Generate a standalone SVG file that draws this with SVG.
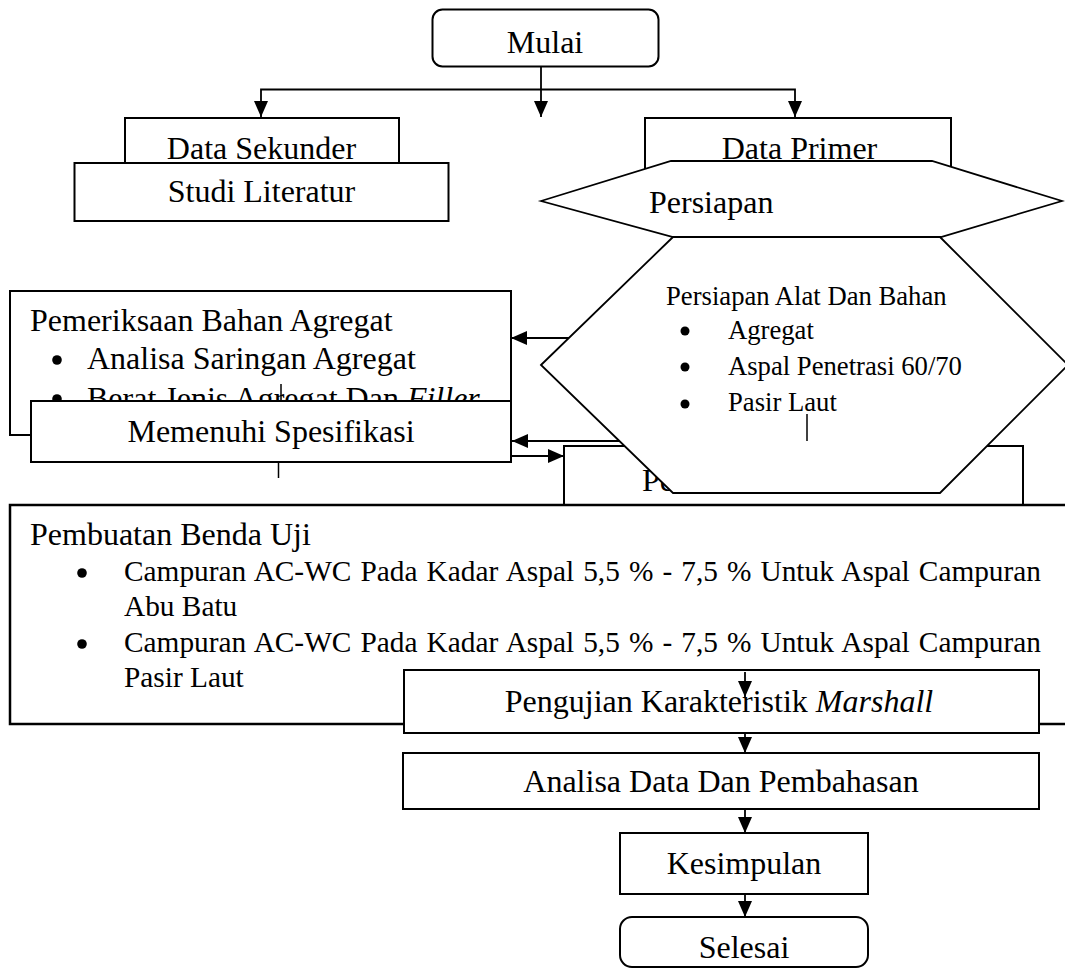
<svg xmlns="http://www.w3.org/2000/svg" width="1065" height="969" viewBox="0 0 1065 969">
<style>
text{font-family:"Liberation Serif","Times New Roman",serif;fill:#000}
.t32{font-size:32px}
.t29{font-size:29.33px}
.t27{font-size:26.67px}
.box{fill:#fff;stroke:#000;stroke-width:2}
.hex{fill:#fff;stroke:#000;stroke-width:1.8;stroke-linejoin:miter}
.con{fill:none;stroke:#000;stroke-width:1.8}
.thin{fill:none;stroke:#000;stroke-width:1.5}
.dot{fill:#000}
</style>
<defs>
<marker id="ah" viewBox="0 0 16 14" refX="16" refY="7" markerWidth="16" markerHeight="14" orient="auto" markerUnits="userSpaceOnUse">
<path d="M0,0 L16,7 L0,14 Z" fill="#000"/>
</marker>
</defs>
<rect width="1065" height="969" fill="#fff"/>

<g id="connectors-top">
<path class="con" d="M541,67 V117" marker-end="url(#ah)"/>
<path class="con" d="M541,89.5 H261 V117" marker-end="url(#ah)"/>
<path class="con" d="M541,89.5 H795 V117" marker-end="url(#ah)"/>
</g>

<g id="mulai">
<rect class="box" x="432.5" y="9.5" width="226" height="57" rx="10"/>
<text class="t32" x="545" y="53" text-anchor="middle">Mulai</text>
</g>

<g id="data-sekunder">
<rect class="box" x="125" y="118" width="274" height="70"/>
<text class="t32" x="261.5" y="159" text-anchor="middle">Data Sekunder</text>
</g>
<g id="studi-literatur">
<rect class="box" x="74.5" y="163" width="374" height="58"/>
<text class="t32" x="261.5" y="202" text-anchor="middle">Studi Literatur</text>
</g>

<g id="data-primer">
<rect class="box" x="645" y="118" width="306" height="70"/>
<text class="t32" x="799.5" y="159" text-anchor="middle">Data Primer</text>
</g>

<g id="persiapan">
<polygon class="hex" points="541,201 671,161 932,161 1062,201 941,237 673,237"/>
<text class="t32" x="649" y="213">Persiapan</text>
</g>

<g id="pemeriksaan">
<rect class="box" x="10" y="291" width="501" height="144"/>
<text class="t32" x="30" y="331">Pemeriksaan Bahan Agregat</text>
<circle class="dot" cx="57" cy="360" r="4.8"/>
<text class="t32" x="87" y="369">Analisa Saringan Agregat</text>
<circle class="dot" cx="57" cy="399" r="4.8"/>
<text class="t32" x="87" y="409">Berat Jenis Agregat Dan <tspan font-style="italic">Filler</tspan></text>
</g>

<g id="connectors-mid">
<path class="thin" d="M281,384 V401"/>
<path class="con" d="M578,338 H511" marker-end="url(#ah)"/>
<path class="con" d="M630,441 H512" marker-end="url(#ah)"/>
<path class="con" d="M511,456 H564" marker-end="url(#ah)"/>
<path class="thin" d="M278.5,462 V478"/>
</g>

<g id="memenuhi">
<rect class="box" x="31" y="401" width="480" height="61"/>
<text class="t32" x="271" y="442" text-anchor="middle">Memenuhi Spesifikasi</text>
</g>

<g id="box-p">
<rect class="box" x="564" y="446" width="459" height="80"/>
<text class="t32" x="642" y="491">Pe</text>
</g>

<g id="persiapan-alat">
<polygon class="hex" points="541,365 673,237 940,237 1068,365 940,493 673,493"/>
<text class="t27" x="666" y="305">Persiapan Alat Dan Bahan</text>
<circle class="dot" cx="685" cy="331" r="4.5"/>
<text class="t27" x="728" y="339">Agregat</text>
<circle class="dot" cx="685" cy="367" r="4.5"/>
<text class="t27" x="728" y="375">Aspal Penetrasi 60/70</text>
<circle class="dot" cx="685" cy="404" r="4.5"/>
<text class="t27" x="728" y="411">Pasir Laut</text>
<path class="thin" d="M807,414 V441"/>
</g>

<g id="pembuatan">
<rect x="10" y="505" width="1070" height="219" fill="#fff" stroke="#000" stroke-width="2.5"/>
<text class="t32" x="30" y="545">Pembuatan Benda Uji</text>
<circle class="dot" cx="82" cy="573" r="4.8"/>
<text class="t29" x="124" y="581" word-spacing="1.75">Campuran AC-WC Pada Kadar Aspal 5,5 % - 7,5 % Untuk Aspal Campuran</text>
<text class="t29" x="124" y="616">Abu Batu</text>
<circle class="dot" cx="82" cy="644" r="4.8"/>
<text class="t29" x="124" y="652" word-spacing="1.75">Campuran AC-WC Pada Kadar Aspal 5,5 % - 7,5 % Untuk Aspal Campuran</text>
<text class="t29" x="124" y="687">Pasir Laut</text>
</g>

<g id="pengujian">
<rect class="box" x="404" y="670" width="635" height="63"/>
<text class="t32" x="719" y="712" text-anchor="middle">Pengujian Karakteristik <tspan font-style="italic">Marshall</tspan></text>
</g>

<g id="analisa">
<rect class="box" x="403" y="753" width="636" height="56"/>
<text class="t32" x="721" y="792" text-anchor="middle">Analisa Data Dan Pembahasan</text>
</g>

<g id="kesimpulan">
<rect class="box" x="620" y="833" width="248" height="61"/>
<text class="t32" x="744" y="874" text-anchor="middle">Kesimpulan</text>
</g>

<g id="selesai">
<rect class="box" x="620" y="917" width="248" height="50" rx="12"/>
<text class="t32" x="744" y="958" text-anchor="middle">Selesai</text>
</g>

<g id="connectors-bottom">
<path class="con" d="M745,672 V697" marker-end="url(#ah)"/>
<path class="con" d="M745,733 V753" marker-end="url(#ah)"/>
<path class="con" d="M745,809 V833" marker-end="url(#ah)"/>
<path class="con" d="M745,894 V917" marker-end="url(#ah)"/>
</g>
</svg>
